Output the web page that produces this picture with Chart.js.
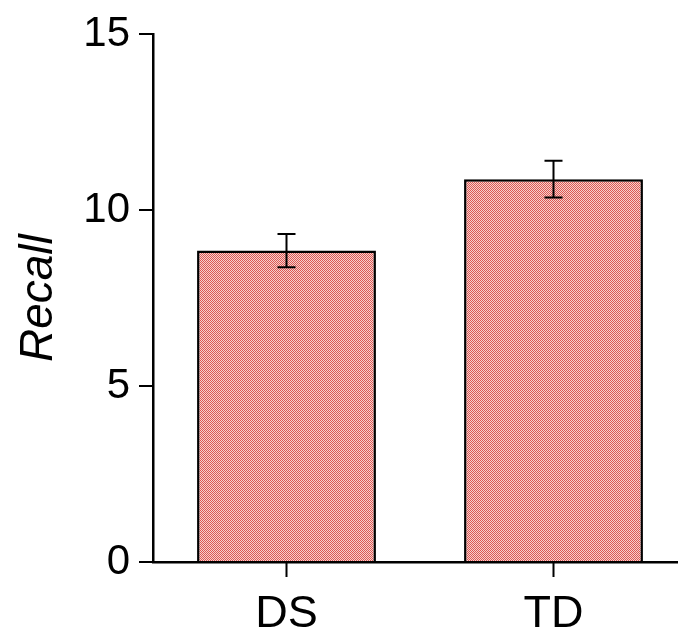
<!DOCTYPE html>
<html>
<head>
<meta charset="utf-8">
<script src="https://cdn.jsdelivr.net/npm/chart.js@4"></script>
<style>
  html, body { margin: 0; padding: 0; background: #fff; overflow: hidden; }
  #wrap { width: 678px; height: 631px; overflow: hidden; }
</style>
</head>
<body>
<div id="wrap"><canvas id="c" width="690" height="631" style="width:690px;height:631px"></canvas></div>
<script>
const groups = ['DS', 'TD'];
const recall = [8.85, 10.88];
const recallSem = [0.47, 0.52];
const yTicks = [0, 5, 10, 15];

// checkered red fill like the original print
function makePattern() {
    const p = document.createElement('canvas');
    p.width = 2; p.height = 2;
    const g = p.getContext('2d');
    g.fillStyle = '#f7d0cd'; g.fillRect(0, 0, 2, 2);
    g.fillStyle = '#dc5854'; g.fillRect(0, 0, 1, 1); g.fillRect(1, 1, 1, 1);
    return g.createPattern(p, 'repeat');
}

// error bars + x tick marks under each category centre
const errorBars = {
    id: 'errorBars',
    afterDatasetsDraw(chart) {
        const ctx = chart.ctx;
        const x = chart.scales.x, y = chart.scales.y;
        ctx.save();
        ctx.strokeStyle = '#000';
        ctx.lineWidth = 2;
        recall.forEach((v, i) => {
            const cx = x.getPixelForValue(i);
            const hi = y.getPixelForValue(v + recallSem[i]);
            const lo = y.getPixelForValue(v - recallSem[i]);
            ctx.beginPath();
            ctx.moveTo(cx, hi); ctx.lineTo(cx, lo);
            ctx.moveTo(cx - 9, hi); ctx.lineTo(cx + 9, hi);
            ctx.moveTo(cx - 9, lo); ctx.lineTo(cx + 9, lo);
            ctx.moveTo(cx, y.bottom); ctx.lineTo(cx, y.bottom + 15);
            ctx.stroke();
        });
        ctx.restore();
    }
};

const family = 'Liberation Sans, Arial, sans-serif';

new Chart(document.getElementById('c'), {
    type: 'bar',
    data: {
        labels: groups,
        datasets: [{
            data: recall,
            backgroundColor: makePattern(),
            borderColor: '#000',
            borderWidth: 2.5,
            borderSkipped: 'bottom',
            barPercentage: 0.67,
            categoryPercentage: 1
        }]
    },
    options: {
        responsive: false,
        animation: false,
        layout: { autoPadding: false, padding: { top: 31, right: 3 } },
        plugins: { legend: { display: false }, tooltip: { enabled: false } },
        scales: {
            x: {
                afterFit(s) { s.height = 69; },
                grid: { display: false, tickLength: 15 },
                border: { display: true, color: '#000', width: 2.5 },
                ticks: { color: '#000', font: { family: family, size: 45 }, padding: 11 }
            },
            y: {
                min: 0,
                max: 15,
                afterFit(s) { s.width = 153; },
                afterBuildTicks(s) { s.ticks = yTicks.map(v => ({ value: v })); },
                grid: { drawOnChartArea: false, tickLength: 14, color: '#000', lineWidth: 2 },
                border: { color: '#000', width: 2.5 },
                ticks: { color: '#000', font: { family: family, size: 42 }, padding: 9 },
                title: {
                    display: true,
                    text: 'Recall',
                    color: '#000',
                    font: { family: family, size: 46, style: 'italic' },
                    padding: { top: 12, bottom: 0 }
                }
            }
        }
    },
    plugins: [errorBars]
});
</script>
</body>
</html>
